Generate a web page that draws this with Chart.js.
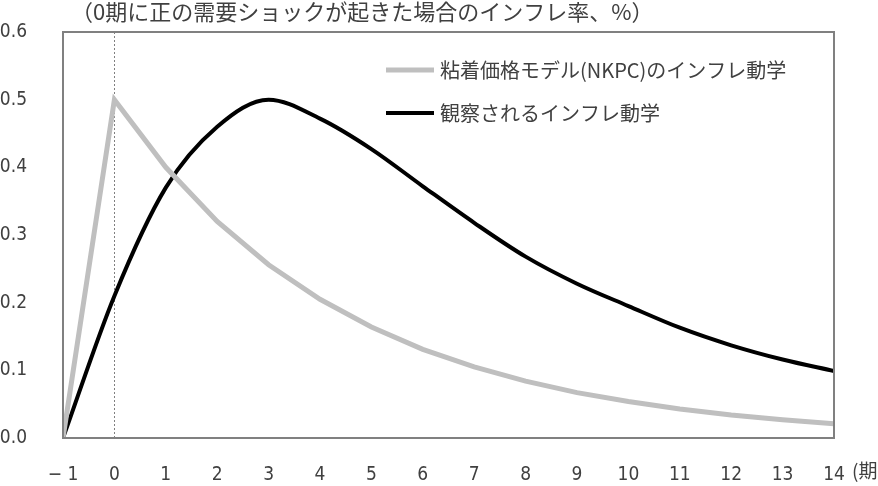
<!DOCTYPE html>
<html>
<head>
<meta charset="utf-8">
<script src="https://cdn.jsdelivr.net/npm/chart.js@4/dist/chart.umd.min.js"></script>
<style>
html,body{margin:0;padding:0;background:#fff;}
#wrap{width:878px;height:486px;position:relative;}
</style>
</head>
<body>
<div id="wrap"><canvas id="c" width="878" height="486"></canvas></div>
<script>
const titleText = '（0期に正の需要ショックが起きた場合のインフレ率、%）';
const xUnitText = '(期)';
const periods = [-1, 0, 1, 2, 3, 4, 5, 6, 7, 8, 9, 10, 11, 12, 13, 14];
const nkpcLabel = '粘着価格モデル(NKPC)のインフレ動学';
const nkpcValues = [0, 0.5, 0.4, 0.32, 0.256, 0.205, 0.164, 0.131, 0.105, 0.084, 0.067, 0.054, 0.043, 0.034, 0.027, 0.021];
const observedLabel = '観察されるインフレ動学';
const observedValues = [0, 0.21, 0.37, 0.46, 0.5, 0.472, 0.427, 0.372, 0.318, 0.268, 0.228, 0.195, 0.163, 0.137, 0.116, 0.099];
const yTicks = [0, 0.1, 0.2, 0.3, 0.4, 0.5, 0.6];

const numFont = "'Liberation Sans Narrow','DejaVu Sans Condensed','Liberation Sans',sans-serif";
const jpFont = "'Noto Sans CJK JP','Noto Sans CJK SC',sans-serif";
const textColor = '#404040';

const toXY = (vals) => vals.map((v, i) => ({x: periods[i], y: v}));

const decor = {
  id: 'decor',
  beforeDatasetsDraw(chart) {
    const {ctx, chartArea: a, scales} = chart;
    ctx.save();
    const x0 = scales.x.getPixelForValue(0);
    ctx.strokeStyle = '#808080';
    ctx.lineWidth = 1;
    ctx.setLineDash([2, 2]);
    ctx.beginPath();
    ctx.moveTo(Math.round(x0) + 0.5, a.top);
    ctx.lineTo(Math.round(x0) + 0.5, a.bottom);
    ctx.stroke();
    ctx.restore();
  },
  afterDatasetsDraw(chart) {
    const {ctx, chartArea: a} = chart;
    ctx.save();
    ctx.strokeStyle = '#808080';
    ctx.lineWidth = 2;
    ctx.strokeRect(a.left, a.top, a.right - a.left, a.bottom - a.top);
    ctx.fillStyle = textColor;
    ctx.font = '22px ' + jpFont;
    ctx.textBaseline = 'middle';
    ctx.textAlign = 'left';
    ctx.fillText(titleText, 71, 12);
    ctx.font = '19px ' + jpFont;
    ctx.fillText(xUnitText, 852, 471);
    const items = chart.data.datasets;
    const ys = [70, 113];
    ctx.font = '20px ' + jpFont;
    items.forEach((ds, i) => {
      ctx.strokeStyle = ds.borderColor;
      ctx.lineWidth = ds.borderWidth;
      ctx.setLineDash([]);
      ctx.beginPath();
      ctx.moveTo(386, ys[i]);
      ctx.lineTo(434, ys[i]);
      ctx.stroke();
      ctx.fillStyle = textColor;
      ctx.fillText(ds.label, 440, ys[i]);
    });
    ctx.restore();
  }
};

new Chart(document.getElementById('c'), {
  type: 'line',
  data: {
    datasets: [
      {label: nkpcLabel, data: toXY(nkpcValues), borderColor: '#bfbfbf', borderWidth: 5, pointRadius: 0, tension: 0, fill: false},
      {label: observedLabel, data: toXY(observedValues), borderColor: '#000000', borderWidth: 4, pointRadius: 0, cubicInterpolationMode: 'monotone', fill: false}
    ]
  },
  options: {
    responsive: false,
    animation: false,
    layout: {padding: {top: 32, right: 44, left: 0, bottom: 0}},
    plugins: {legend: {display: false}, tooltip: {enabled: false}, title: {display: false}},
    scales: {
      x: {
        type: 'linear', min: -1, max: 14,
        grid: {display: false}, border: {display: false},
        afterBuildTicks: (s) => { s.ticks = periods.map(v => ({value: v})); },
        afterFit: (s) => { s.height = 48; s.paddingLeft = 0; s.paddingRight = 0; },
        ticks: {
          color: textColor, padding: 18, maxRotation: 0, autoSkip: false,
          font: {family: numFont, size: 19},
          callback: (v) => (v < 0 ? '− ' + Math.abs(v) : String(v))
        }
      },
      y: {
        min: 0, max: 0.6,
        grid: {display: false}, border: {display: false},
        afterBuildTicks: (s) => { s.ticks = yTicks.map(v => ({value: v})); },
        afterFit: (s) => { s.width = 63; s.paddingTop = 0; s.paddingBottom = 0; },
        ticks: {
          color: textColor, padding: 28,
          font: {family: numFont, size: 19},
          callback: (v) => Number(v).toFixed(1)
        }
      }
    }
  },
  plugins: [decor]
});
</script>
</body>
</html>
